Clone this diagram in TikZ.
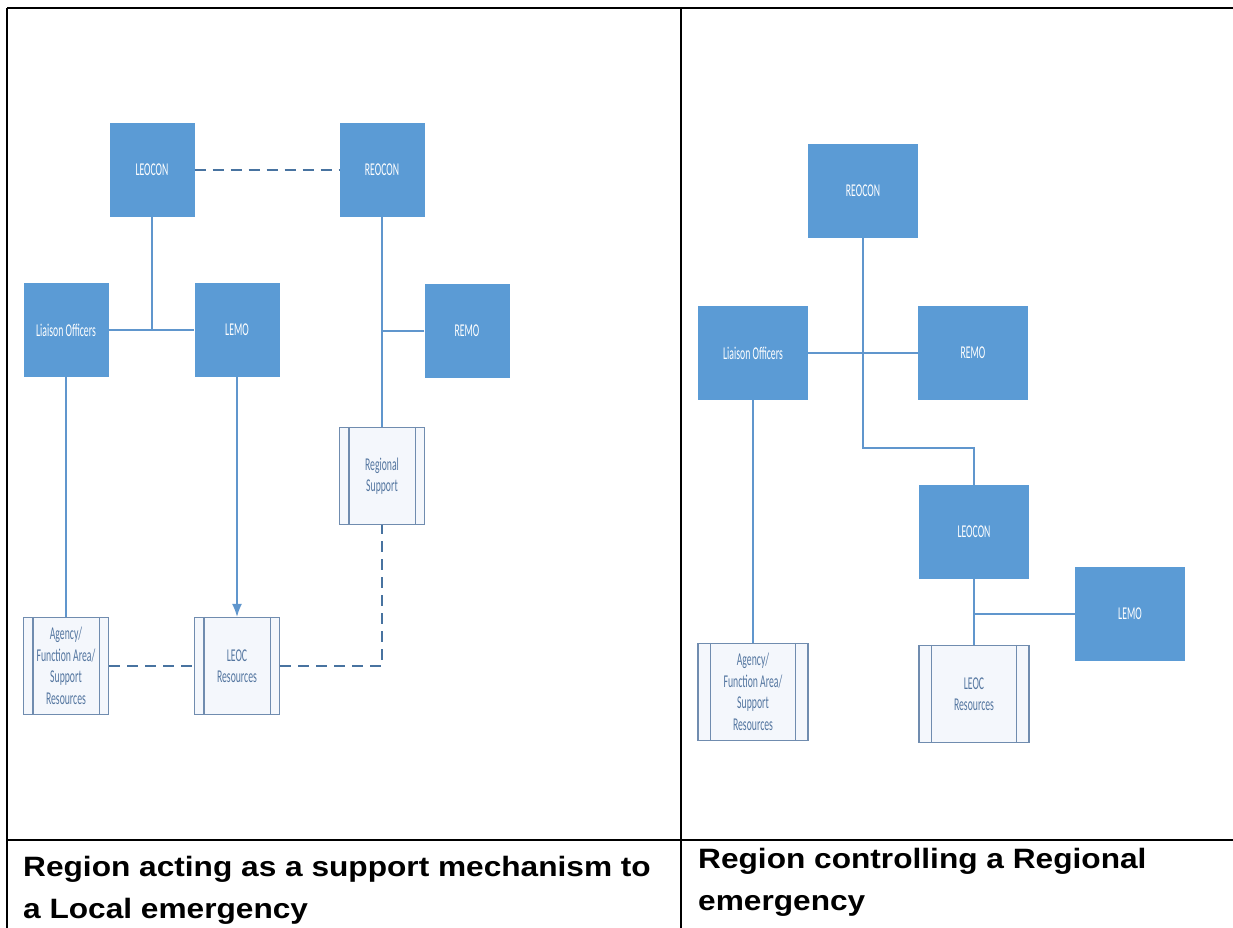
\documentclass[tikz,border=0pt]{standalone}
\usepackage{fontspec}
\usepackage{tikz}
\usetikzlibrary{arrows.meta,positioning}
\newfontfamily\boxfont[FakeStretch=0.54]{Carlito}
\newfontfamily\capfont[FakeStretch=1.13]{Liberation Sans Bold}
\definecolor{boxblue}{RGB}{91,155,213}
\definecolor{linkblue}{RGB}{96,150,205}
\definecolor{dashblue}{RGB}{72,115,160}
\definecolor{resborder}{RGB}{112,140,175}
\definecolor{resfill}{RGB}{244,247,252}
\definecolor{restext}{RGB}{84,118,160}
\tikzset{bluebox/.style={rectangle,fill=boxblue,text=white,minimum width=#1,minimum height=94,inner sep=0pt,
    font=\boxfont\fontsize{18}{21.5}\selectfont},
  bluebox/.default=85}
\tikzset{resbox/.style={rectangle,draw=resborder,line width=1.2pt,fill=resfill,text=restext,minimum width=#1,minimum height=97,
    inner sep=0pt,align=center,font=\boxfont\fontsize{18}{21.5}\selectfont},
  resbox/.default=85}
\tikzset{link/.style={draw=linkblue,line width=1.5pt}}
\tikzset{dlink/.style={draw=dashblue,line width=2.2pt,dash pattern=on 11pt off 7pt}}
\tikzset{rule/.style={draw=black,line width=2pt}}
\tikzset{caption/.style={anchor=base west,align=left,inner sep=0pt,font=\capfont\fontsize{28}{42}\selectfont}}

\begin{document}
\begin{tikzpicture}[x=1pt,y=-1pt]
  \useasboundingbox (0,0) rectangle (1233,928);
  % table frame
  \draw[rule,line width=2.4pt] (7,8) -- (1233,8);
  \draw[rule,line width=1.8pt] (7,8) -- (7,928);
  \draw[rule,line width=1.6pt] (681,8) -- (681,928);
  \draw[rule] (7,840) -- (1233,840);

  % left: region supporting a local emergency
  \node[bluebox] (lleocon) at (152,170) {LEOCON};
  \node[bluebox] (lreocon) at (382,170) {REOCON};
  \node[bluebox] (lliaison) at (66,330) {Liaison Officers};
  \node[bluebox] (llemo) at (237,330) {LEMO};
  \node[bluebox] (lremo) at (467,331) {REMO};
  \node[resbox] (lregsup) at (382,476) {Regional\\Support};
  \node[resbox] (lagency) at (66,666) {Agency/\\Function Area/\\Support\\Resources};
  \node[resbox] (lleoc) at (237,666) {LEOC\\Resources};

  \draw[link] (lliaison.east) -- (llemo.west);
  \draw[link] (lleocon.south) -- (lleocon.south |- lliaison.east);
  \draw[link] (lreocon.south) -- (lregsup.north);
  \draw[link] (lremo.west) -- (lremo.west -| lreocon.south);
  \draw[link] (lliaison.south) -- (lagency.north);
  \draw[link,-{Latex[length=13pt,width=10pt]}] (llemo.south) -- (lleoc.north);
  \draw[dlink] (lleocon.east) -- (lreocon.west);
  \draw[dlink] (lagency.east) -- (lleoc.west);
  \draw[dlink] (lleoc.east) -| (lregsup.south);

  % right: region controlling a regional emergency
  \node[bluebox=110] (rreocon) at (863,191) {REOCON};
  \node[bluebox=110] (rliaison) at (753,353) {Liaison Officers};
  \node[bluebox=110] (rremo) at (973,353) {REMO};
  \node[bluebox=110] (rleocon) at (974,532) {LEOCON};
  \node[bluebox=110] (rlemo) at (1130,614) {LEMO};
  \node[resbox=110] (ragency) at (753,692) {Agency/\\Function Area/\\Support\\Resources};
  \node[resbox=110] (rleoc) at (974,694) {LEOC\\Resources};
  \coordinate (rbend) at (863,448);

  \draw[link] (rliaison.east) -- (rremo.west);
  \draw[link] (rreocon.south) -- (rbend) -| (rleocon.north);
  \draw[link] (rleocon.south) -- (rleoc.north);
  \draw[link] (rlemo.west) -- (rlemo.west -| rleocon.south);
  \draw[link] (rliaison.south) -- (ragency.north);

  % inner bars of the resource boxes
  \foreach \n/\d in {lregsup/10,lagency/10,lleoc/10,ragency/13,rleoc/13}{
    \draw[resborder,line width=1.2pt] ([xshift=\d pt]\n.north west) -- ([xshift=\d pt]\n.south west);
    \draw[resborder,line width=1.2pt] ([xshift=-\d pt]\n.north east) -- ([xshift=-\d pt]\n.south east);
  }

  % captions
  \node[caption] (lcap) at (23,918) {Region acting as a support mechanism to\\a Local emergency};
  \node[caption] (rcap) at (698,910) {Region controlling a Regional\\emergency};
\end{tikzpicture}
\end{document}
